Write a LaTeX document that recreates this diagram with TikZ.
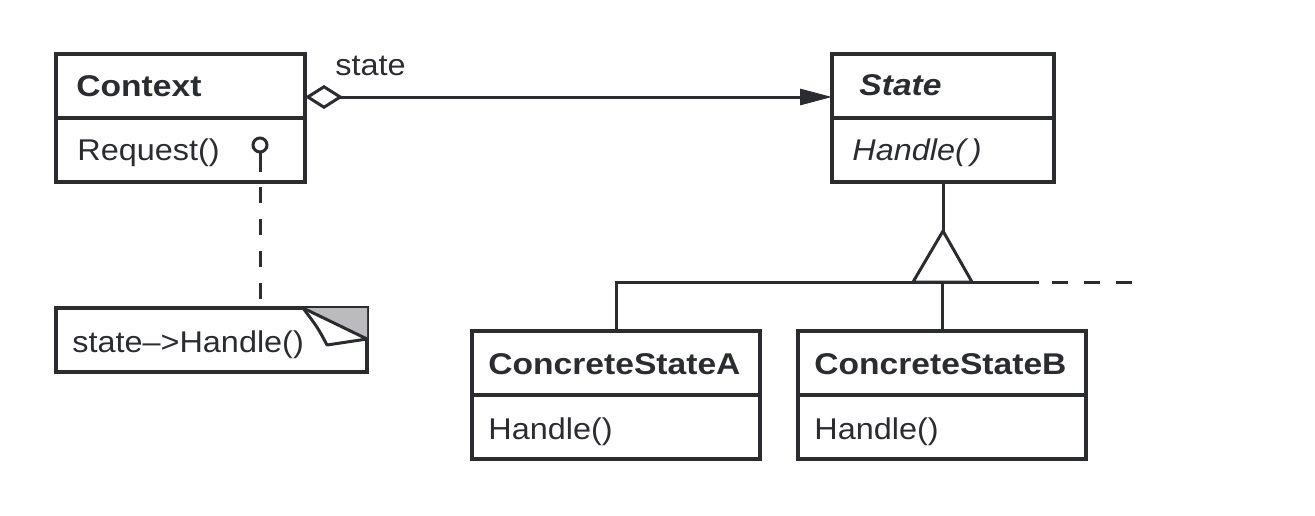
\documentclass[tikz,border=0pt]{standalone}
\usepackage{fontspec}
\setmainfont{Liberation Sans}[FakeStretch=1.08,
  BoldFeatures={FakeStretch=1.12},BoldItalicFeatures={FakeStretch=1.12}]
\usepackage{tikz}
\usetikzlibrary{arrows.meta,calc}

\definecolor{umlink}{RGB}{43,44,48}
\definecolor{foldgray}{RGB}{187,187,189}

\tikzset{
  classbox/.style={draw=umlink,line width=1.6pt,minimum width=#1,
    minimum height=32pt,anchor=north west,inner sep=0pt,outer sep=0pt},
  umltext/.style={anchor=base west,inner sep=0pt,text=umlink,
    font=\fontsize{15pt}{18pt}\selectfont},
  umlline/.style={draw=umlink,line width=1.5pt},
  notedash/.style={umlline,dash pattern=on 8pt off 8pt}
}

\begin{document}
\begin{tikzpicture}[x=0.5pt,y=-0.5pt]
          \useasboundingbox (0,0) rectangle (1315,515);

          % Context
          \node[classbox=124.5pt] (ctxhead) at (56,54) {};
          \node[classbox=124.5pt] (ctxops) at (ctxhead.south west) {};
          \node[umltext] (ctxname) at (76,96) {\bfseries Context};
          \node[umltext] (ctxreq) at (77,160) {Request()};
          \node[circle,draw=umlink,line width=1.5pt,minimum size=7pt,
                inner sep=0pt,outer sep=0pt] (reqpin) at (260,145) {};
          \coordinate (pinend) at (260,172);
          \draw[umlline] (reqpin.south) -- (pinend);

          % note
          \node[classbox=155.5pt] (note) at (56,308) {};
          \node[umltext] (notetext) at (72,352) {state--{}>Handle()};
          \coordinate (foldL) at (303,308);
          \coordinate (foldT) at (367,308);
          \coordinate (foldR) at (367,339);
          \coordinate (curl) at (327,345);
          \fill[foldgray] (foldL) -- (foldT) -- (foldR) -- cycle;
          \draw[umlline,line join=round] (foldL) -- (foldR);
          \draw[umlline,line join=round] (foldL) .. controls (318,328) .. (curl) -- (foldR);
          \draw[notedash,dash phase=13.5pt] (ctxops.south -| reqpin) -- (note.north -| reqpin);

          % State
          \node[classbox=111pt] (statehead) at (832,54) {};
          \node[classbox=111pt] (stateops) at (statehead.south west) {};
          \node[umltext] (statename) at (859,95) {\bfseries\itshape State};
          \node[umltext] (statereq) at (852,160) {\itshape Handle(\,)};

          \coordinate (aggy) at (0,97);
          \draw[umlline,{Diamond[open,length=19pt,width=12pt]}-{Triangle[length=16pt,width=8pt]}]
               (ctxhead.east |- aggy) -- (statehead.west |- aggy);
          \node[umltext] (statelbl) at (335,75) {state};

          % ConcreteStateA and ConcreteStateB
          \node[classbox=144pt] (csAhead) at (472,331) {};
          \node[classbox=144pt] (csAops) at (csAhead.south west) {};
          \node[umltext] (csAname) at (488,374) {\bfseries ConcreteStateA};
          \node[umltext] (csAreq) at (488,439) {Handle()};

          \node[classbox=144pt] (csBhead) at (798,331) {};
          \node[classbox=144pt] (csBops) at (csBhead.south west) {};
          \node[umltext] (csBname) at (814,374) {\bfseries ConcreteStateB};
          \node[umltext] (csBreq) at (814,439) {Handle()};

          % inheritance
          \coordinate (apex) at (943,231);
          \coordinate (triL) at (913,282);
          \coordinate (triR) at (972,282);
          \coordinate (barR) at (1039,282);
          \coordinate (dashL) at (1052,282);
          \coordinate (dashR) at (1132,282);
          \draw[umlline] (stateops.south) -- (apex);
          \draw[umlline,line join=miter] (apex) -- (triL) -- (triR) -- cycle;
          \draw[umlline] (csAhead.north) |- (barR);
          \draw[umlline] (csBhead.north) -- (csBhead.north |- barR);
          \draw[notedash] (dashL) -- (dashR);
\end{tikzpicture}
\end{document}
